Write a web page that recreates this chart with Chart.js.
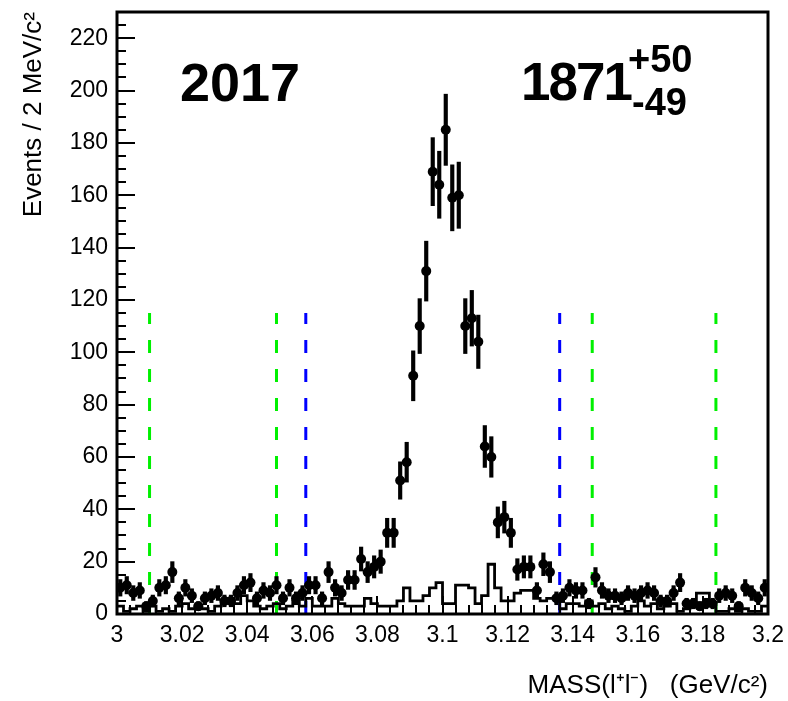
<!DOCTYPE html>
<html><head><meta charset="utf-8">
<script src="https://cdn.jsdelivr.net/npm/chart.js@4/dist/chart.umd.min.js"></script>
<style>
html,body{margin:0;padding:0;background:#fff;}
#wrap{position:relative;width:788px;height:701px;overflow:hidden;}
canvas{position:absolute;left:0;top:0;}
.lbl{position:absolute;font-family:"Liberation Sans",Arial,Helvetica,sans-serif;font-weight:bold;line-height:1;white-space:nowrap;color:#000;}
</style></head><body>
<div id="wrap"><canvas id="c" width="788" height="701"></canvas>
<div class="lbl" style="left:180px;top:55px;font-size:54px;">2017</div>
<div class="lbl" style="left:521px;top:55px;font-size:53px;letter-spacing:-2px;">1871</div>
<div class="lbl" style="left:628px;top:40px;font-size:38px;">+50</div>
<div class="lbl" style="left:632px;top:83px;font-size:38px;">-49</div>
</div>
<script>
// ---- data ----
const massMin = 3.0, massMax = 3.2, binWidth = 0.002; // GeV/c^2, 100 bins
const events = [
 10,11,8,9,3,5,10,11,16,6,
 10,7,3,6,7,8,5,5,8,11,
 12,6,9,8,11,6,10,6,8,11,
 11,6,16,10,8,13,13,21,16,18,
 20,31,31,51,58,91,110,131,169,164,
 185,159,160,110,113,104,64,60,35,37,
 31,17,18,18,9,19,16,6,7,10,
 9,9,4,14,9,7,7,6,8,7,
 8,9,8,5,5,8,12,4,4,3,
 4,4,7,8,7,3,10,8,6,10];
const background = [
 3,1,2,3,1,3,1,2,1,3,
 4,2,3,2,1,3,5,6,4,7,
 5,3,2,3,4,2,3,5,3,6,
 3,3,3,6,4,3,3,3,6,4,
 3,3,3,5,10,5,5,7,10,12,
 4,4,11,11,10,4,7,19,10,5,
 5,8,9,9,6,5,6,6,2,4,
 4,3,5,3,4,2,3,2,1,3,
 5,3,4,2,3,4,1,2,4,8,
 8,3,1,1,2,1,2,1,1,3];
const signalWindow = [3.058, 3.136];
const sidebandLines = [3.010, 3.049, 3.146, 3.184];
const windowLineTop = 115;
const yTickMax = 220, yMax = 230, yMajor = 20, yMinor = 5;
const xMajor = 0.02, xMinor = 0.004;

// ---- derived datasets ----
const centers = events.map((_, i) => +(massMin + binWidth * (i + 0.5)).toFixed(4));
const pointData = events.map((v, i) => ({x: centers[i], y: v}));
const errData = events.map((v, i) => ({x: centers[i], y: [v - Math.sqrt(v), v + Math.sqrt(v)]}));
const histData = background.map((v, i) => ({x: +(massMin + binWidth * i).toFixed(4), y: v}));
histData.push({x: massMax, y: background[background.length - 1]});
function vline(m, color) {
  return {type: 'line', data: [{x: m, y: 0}, {x: m, y: windowLineTop}], borderColor: color,
    borderWidth: 3, borderDash: [13, 16], borderCapStyle: 'butt', pointRadius: 0, fill: false, order: 5};
}

const FONT = '"Liberation Sans", Arial, Helvetica, sans-serif';

const rootFrame = {
  id: 'rootFrame',
  afterDatasetsDraw(chart) {
    const {ctx, chartArea: a, scales: {x, y}} = chart;
    ctx.save();
    ctx.strokeStyle = '#000';
    ctx.lineWidth = 2;
    ctx.beginPath();
    for (let v = 0; v <= yMax + 1e-9; v += yMinor) {
      const py = Math.round(y.getPixelForValue(v));
      const len = (v % yMajor === 0) ? 18 : 9;
      ctx.moveTo(a.left, py); ctx.lineTo(a.left + len, py);
    }
    const nx = Math.round((massMax - massMin) / xMinor);
    const per = Math.round(xMajor / xMinor);
    for (let k = 0; k <= nx; k++) {
      const px = Math.round(x.getPixelForValue(massMin + k * xMinor));
      const len = (k % per === 0) ? 18 : 9;
      ctx.moveTo(px, a.bottom); ctx.lineTo(px, a.bottom - len);
    }
    ctx.stroke();
    ctx.lineWidth = 3;
    ctx.strokeRect(a.left, a.top, a.right - a.left, a.bottom - a.top);
    ctx.restore();
  }
};

new Chart(document.getElementById('c'), {
  type: 'scatter',
  data: {
    datasets: [
      {type: 'scatter', data: pointData, pointRadius: 5, pointHoverRadius: 5,
       backgroundColor: '#000', borderColor: '#000', borderWidth: 0, order: 0},
      {type: 'bar', data: errData, backgroundColor: '#000', borderWidth: 0,
       barThickness: 3.5, grouped: false, order: 1},
      {type: 'line', data: histData, stepped: true, borderColor: '#000', borderWidth: 2.8,
       pointRadius: 0, fill: false, order: 2},
      vline(sidebandLines[0], '#00f000'),
      vline(sidebandLines[1], '#00f000'),
      vline(signalWindow[0], '#0000ff'),
      vline(signalWindow[1], '#0000ff'),
      vline(sidebandLines[2], '#00f000'),
      vline(sidebandLines[3], '#00f000')
    ]
  },
  options: {
    responsive: false, animation: false, devicePixelRatio: 1,
    layout: {padding: {left: 0, top: 12, right: 20, bottom: 0}},
    plugins: {legend: {display: false}, tooltip: {enabled: false}},
    scales: {
      x: {
        type: 'linear', min: massMin, max: massMax, offset: false,
        grid: {display: false, drawTicks: false, offset: false}, border: {display: false},
        ticks: {stepSize: xMajor, autoSkip: false, maxRotation: 0, padding: 8, color: '#000',
          font: {family: FONT, size: 23},
          callback: v => String(+v.toFixed(3))},
        title: {display: true, text: 'MASS(l\u207Al\u207B)   (GeV/c\u00B2)', align: 'end', color: '#000',
          font: {family: FONT, size: 26}, padding: {top: 0, bottom: 0}},
        afterFit: s => { s.height = 87; s.paddingLeft = 0; s.paddingRight = 0; }
      },
      y: {
        min: 0, max: yMax,
        grid: {display: false, drawTicks: false}, border: {display: false},
        ticks: {stepSize: yMajor, includeBounds: false, padding: 9, color: '#000', font: {family: FONT, size: 23},
          callback: v => (v <= yTickMax && v % yMajor === 0) ? String(v) : null},
        title: {display: true, text: 'Events / 2 MeV/c\u00B2', align: 'end', color: '#000',
          font: {family: FONT, size: 26}, padding: {top: 18, bottom: 0}},
        afterFit: s => { s.width = 117; s.paddingTop = 0; s.paddingBottom = 0; }
      }
    }
  },
  plugins: [rootFrame]
});
</script>
</body></html>
